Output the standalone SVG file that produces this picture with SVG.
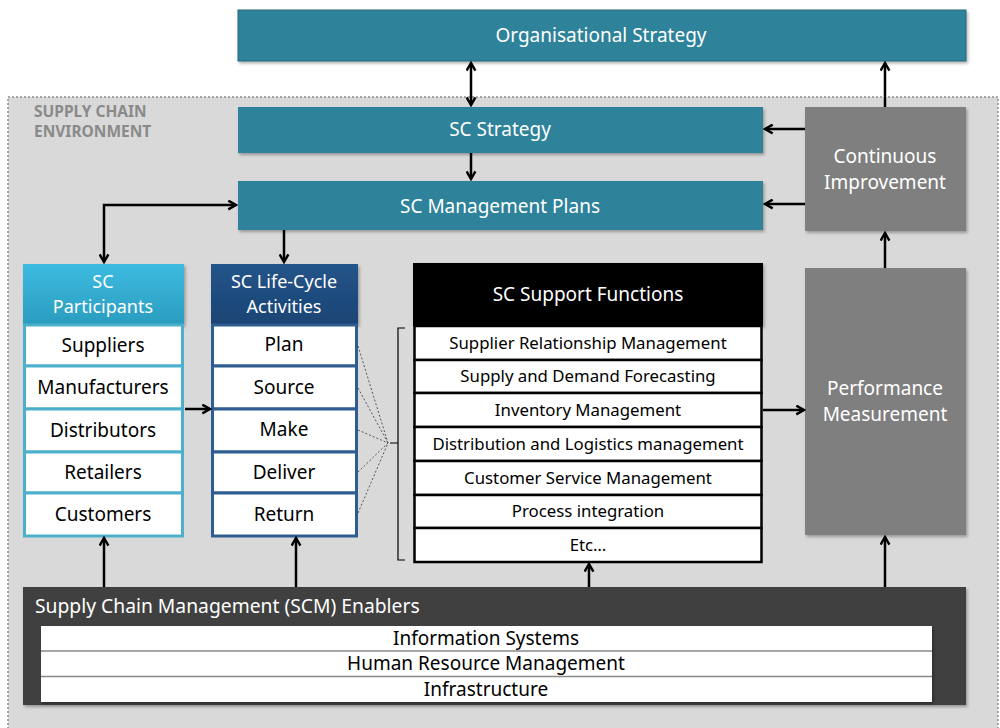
<svg xmlns="http://www.w3.org/2000/svg" width="1000" height="728" viewBox="0 0 1000 728">
<defs>
<style>
text{font-family:"Noto Sans","DejaVu Sans",sans-serif;text-anchor:middle}
.w{fill:#fff}
.k{fill:#000}
.t18{font-size:19px}
.hd{font-size:18px}
.t16{font-size:16.8px}
.teal{fill:#2e8299}
.gry{fill:#7f7f7f}
.con{fill:none;stroke:#000;stroke-width:2.5}
.dash{fill:none;stroke:#333;stroke-width:0.8;stroke-dasharray:2 2}
.row{fill:#fff}
</style>
<linearGradient id="gP" x1="0" y1="0" x2="0" y2="1"><stop offset="0" stop-color="#3dbbe0"/><stop offset="1" stop-color="#2a9cbf"/></linearGradient>
<linearGradient id="gL" x1="0" y1="0" x2="0" y2="1"><stop offset="0" stop-color="#23548a"/><stop offset="1" stop-color="#1b4474"/></linearGradient>
<filter id="sh" x="-5%" y="-5%" width="115%" height="120%"><feDropShadow dx="1.5" dy="2" stdDeviation="1.5" flood-color="#000" flood-opacity="0.3"/></filter>
<marker id="ah" viewBox="0 0 10 10" refX="8.5" refY="5" markerWidth="11" markerHeight="11" orient="auto-start-reverse" markerUnits="userSpaceOnUse"><path d="M1.5,1 L8.5,5 L1.5,9" fill="none" stroke="#000" stroke-width="2.2"/></marker>
</defs>
<rect width="1000" height="728" fill="#fff"/>

<g id="environment">
<rect x="8" y="97" width="990" height="640" fill="#d9d9d9" stroke="#8f8f8f" stroke-width="1.5" stroke-dasharray="2 2"/>
<text x="34" y="117" style="text-anchor:start;font-size:15.5px;font-weight:bold;fill:#8a8a8a">SUPPLY CHAIN</text>
<text x="34" y="137" style="text-anchor:start;font-size:15.5px;font-weight:bold;fill:#8a8a8a">ENVIRONMENT</text>
</g>

<g id="org-strategy">
<rect x="238" y="10" width="728" height="51" class="teal" stroke="#24677a" stroke-width="1" filter="url(#sh)"/>
<text x="601" y="42" class="w t18">Organisational Strategy</text>
</g>

<g id="sc-strategy">
<rect x="238" y="107" width="525" height="46" class="teal" filter="url(#sh)"/>
<text x="500" y="136" class="w t18">SC Strategy</text>
</g>

<g id="sc-mgmt-plans">
<rect x="238" y="181" width="525" height="49" class="teal" filter="url(#sh)"/>
<text x="500" y="213" class="w t18">SC Management Plans</text>
</g>

<g id="continuous-improvement">
<rect x="805" y="107" width="161" height="124" class="gry" filter="url(#sh)"/>
<text x="885" y="163" class="w t18">Continuous</text>
<text x="885" y="189" class="w t18">Improvement</text>
</g>

<g id="performance-measurement">
<rect x="805" y="268" width="161" height="267" class="gry" filter="url(#sh)"/>
<text x="885" y="395" class="w t18">Performance</text>
<text x="885" y="421" class="w t18">Measurement</text>
</g>

<g id="sc-participants">
<rect x="23" y="264" width="161" height="61" fill="url(#gP)" filter="url(#sh)"/>
<text x="103" y="288" class="w hd">SC</text>
<text x="103" y="313" class="w hd">Participants</text>
<g fill="#fff" stroke="#4cb0cc" stroke-width="3">
<rect x="24.5" y="325" width="158" height="41"/>
<rect x="24.5" y="366" width="158" height="43"/>
<rect x="24.5" y="409" width="158" height="43"/>
<rect x="24.5" y="452" width="158" height="41"/>
<rect x="24.5" y="493" width="158" height="43"/>
</g>
<text x="103" y="352" class="k t18">Suppliers</text>
<text x="103" y="394" class="k t18">Manufacturers</text>
<text x="103" y="437" class="k t18">Distributors</text>
<text x="103" y="479" class="k t18">Retailers</text>
<text x="103" y="521" class="k t18">Customers</text>
</g>

<g id="sc-life-cycle">
<rect x="211" y="264" width="147" height="61" fill="url(#gL)" filter="url(#sh)"/>
<text x="284" y="288" class="w hd">SC Life-Cycle</text>
<text x="284" y="313" class="w hd">Activities</text>
<g fill="#fff" stroke="#2f5d91" stroke-width="3">
<rect x="212.5" y="325" width="144" height="41"/>
<rect x="212.5" y="366" width="144" height="43"/>
<rect x="212.5" y="409" width="144" height="43"/>
<rect x="212.5" y="452" width="144" height="41"/>
<rect x="212.5" y="493" width="144" height="43"/>
</g>
<text x="284" y="351" class="k t18">Plan</text>
<text x="284" y="394" class="k t18">Source</text>
<text x="284" y="436" class="k t18">Make</text>
<text x="284" y="479" class="k t18">Deliver</text>
<text x="284" y="521" class="k t18">Return</text>
</g>

<g id="sc-support-functions">
<rect x="413" y="263" width="350" height="63" fill="#000" filter="url(#sh)"/>
<text x="588" y="301" class="w t18">SC Support Functions</text>
<g fill="#fff" stroke="#000" stroke-width="2.5">
<rect x="414.5" y="326" width="347" height="34"/>
<rect x="414.5" y="360" width="347" height="33"/>
<rect x="414.5" y="393" width="347" height="34"/>
<rect x="414.5" y="427" width="347" height="34"/>
<rect x="414.5" y="461" width="347" height="34"/>
<rect x="414.5" y="495" width="347" height="33"/>
<rect x="414.5" y="528" width="347" height="34"/>
</g>
<text x="588" y="348.5" class="k t16">Supplier Relationship Management</text>
<text x="588" y="382" class="k t16">Supply and Demand Forecasting</text>
<text x="588" y="415.5" class="k t16">Inventory Management</text>
<text x="588" y="449.5" class="k t16">Distribution and Logistics management</text>
<text x="588" y="483.5" class="k t16">Customer Service Management</text>
<text x="588" y="517" class="k t16">Process integration</text>
<text x="588" y="550.5" class="k t16">Etc…</text>
<path d="M405,328 H398 V560 H405 M398,443 H390" fill="none" stroke="#000" stroke-width="1.2"/>
</g>

<g id="scm-enablers">
<rect x="23" y="587" width="943" height="118" fill="#404040" filter="url(#sh)"/>
<text x="35" y="613" class="w" style="text-anchor:start;font-size:19.3px">Supply Chain Management (SCM) Enablers</text>
<rect x="41" y="626" width="891" height="76" fill="#fff" filter="url(#sh)"/>
<path d="M41,651 H932 M41,676.5 H932" stroke="#8a8a8a" stroke-width="1.5"/>
<text x="486" y="645" class="k t18">Information Systems</text>
<text x="486" y="670" class="k t18">Human Resource Management</text>
<text x="486" y="696" class="k t18">Infrastructure</text>
</g>

<g id="connectors">
<line x1="471" y1="63" x2="471" y2="105" class="con" marker-start="url(#ah)" marker-end="url(#ah)"/>
<line x1="471" y1="153" x2="471" y2="179" class="con" marker-end="url(#ah)"/>
<line x1="805" y1="129" x2="765" y2="129" class="con" marker-end="url(#ah)"/>
<line x1="805" y1="204" x2="765" y2="204" class="con" marker-end="url(#ah)"/>
<line x1="885" y1="107" x2="885" y2="63" class="con" marker-end="url(#ah)"/>
<line x1="885" y1="268" x2="885" y2="233" class="con" marker-end="url(#ah)"/>
<polyline points="236,205 104,205 104,262" class="con" marker-start="url(#ah)" marker-end="url(#ah)"/>
<line x1="284" y1="230" x2="284" y2="262" class="con" marker-end="url(#ah)"/>
<line x1="185" y1="409" x2="210" y2="409" class="con" marker-end="url(#ah)"/>
<line x1="763" y1="410" x2="804" y2="410" class="con" marker-end="url(#ah)"/>
<line x1="104" y1="587" x2="104" y2="538" class="con" marker-end="url(#ah)"/>
<line x1="296" y1="587" x2="296" y2="538" class="con" marker-end="url(#ah)"/>
<line x1="589" y1="587" x2="589" y2="564" class="con" marker-end="url(#ah)"/>
<line x1="885" y1="587" x2="885" y2="537" class="con" marker-end="url(#ah)"/>
<path d="M358,346 L388,443 M358,388 L388,443 M358,430 L388,443 M358,472 L388,443 M358,513 L388,443" class="dash"/>
</g>
</svg>
